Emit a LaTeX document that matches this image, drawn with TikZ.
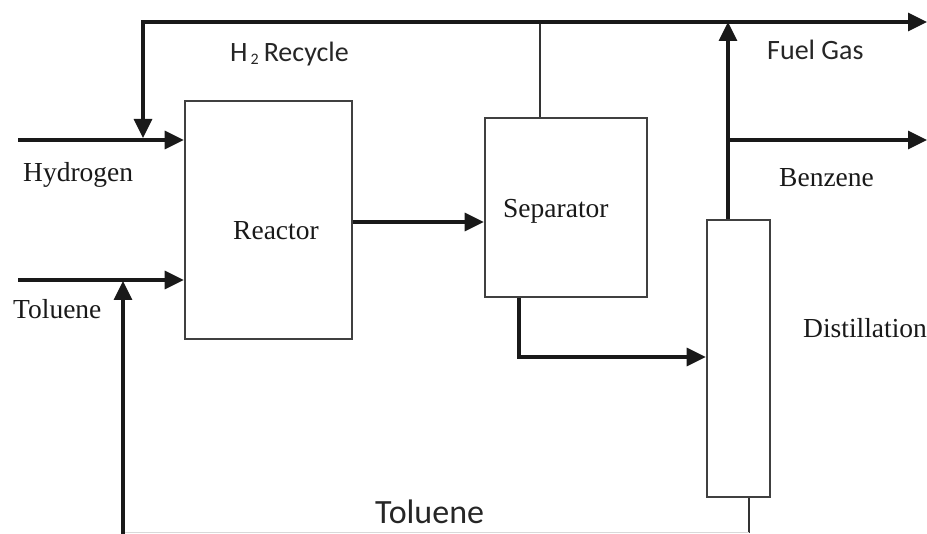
\documentclass[tikz,border=0pt]{standalone}
\usepackage{fontspec}
\setmainfont{Liberation Serif}
\newfontfamily\calfont{Carlito}
\usetikzlibrary{arrows.meta}
\begin{document}
\begin{tikzpicture}[x=1pt,y=1pt,
  unitbox/.style={draw=black!75,line width=2.6pt,fill=none,inner sep=0pt},
  flow/.style={line width=3.2pt,draw=black!90},
  thinflow/.style={line width=2.4pt,draw=black!80},
  arr/.style={-{Triangle[length=19pt,width=18pt]}},
  slabel/.style={anchor=base west,inner sep=0pt,font=\fontsize{27.5}{30}\selectfont,text=black!90},
  clabel/.style={anchor=base west,inner sep=0pt,font=\calfont\fontsize{28}{30}\selectfont,text=black!85}]
\useasboundingbox (0,0) rectangle (927,-534);
% units
\node[unitbox,minimum width=167pt,minimum height=238pt] (reactor) at (268.5,-220) {};
\node[unitbox,minimum width=162pt,minimum height=179pt] (sep) at (566,-207.5) {};
\node[unitbox,minimum width=63pt,minimum height=277pt] (col) at (738.5,-358.5) {};
% coordinates
\coordinate (hin) at (18,-140);
\coordinate (tin) at (18,-280);
\coordinate (stop) at (540,-22);
\coordinate (rcl) at (143,-22);
\coordinate (fuel) at (927,-22);
\coordinate (benz) at (927,-140);
\coordinate (ctop) at (728,-22);
\coordinate (btee) at (728,-140);
\coordinate (sbot) at (519,-357);
\coordinate (cbot) at (749,-533);
\coordinate (tbot) at (123,-533);
\coordinate (trec) at (123,-281);
% feeds
\draw[flow,arr] (hin) -- (reactor.west |- hin);
\draw[flow,arr] (tin) -- (reactor.west |- tin);
% H2 recycle
\draw[thinflow] (sep.north -| stop) -- (stop);
\draw[flow,arr] (stop) -- (rcl) -- ([yshift=2pt]rcl |- hin);
\draw[flow,arr] (stop) -- (fuel);
% column top
\draw[flow,arr] (col.north -| ctop) -- (ctop);
\draw[flow,arr] (btee) -- (benz);
% reactor to separator
\draw[flow,arr] (reactor.east |- 0,-222) -- (sep.west |- 0,-222);
% separator bottom to column
\draw[flow,arr] (sep.south -| sbot) -- (sbot) -- (col.west |- sbot);
% toluene recycle
\draw[thinflow] (col.south -| cbot) -- (cbot);
\draw[line width=1pt,draw=black!15] (cbot) -- (tbot);
\draw[flow,arr] ([yshift=-2pt]tbot) -- (trec);
% labels
\node[slabel] (lreactor) at (233,-240) {Reactor};
\node[slabel] (lsep) at (503,-218) {Separator};
\node[slabel] (lhyd) at (23,-182) {Hydrogen};
\node[slabel] (ltol) at (13,-319) {Toluene};
\node[slabel] (ldist) at (803,-338) {Distillation};
\node[slabel] (lbenz) at (779,-187) {Benzene};
\node[clabel] (lh2) at (230,-62) {H\kern3pt{\fontsize{16}{18}\selectfont\raisebox{-3pt}{2}}\kern5pt Recycle};
\node[clabel] (lfuel) at (767,-60) {Fuel Gas};
\node[clabel,font=\calfont\fontsize{34}{36}\selectfont] (ltolb) at (375,-523) {Toluene};
\end{tikzpicture}
\end{document}
